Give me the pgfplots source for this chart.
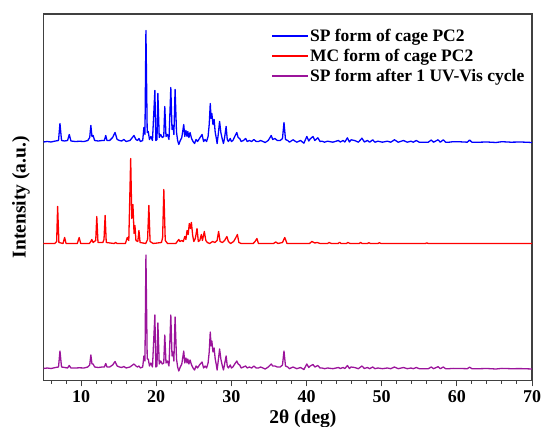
\documentclass[border=0pt]{standalone}
\usepackage{fontspec}
\setmainfont{Liberation Serif}
\usepackage{pgfplots}
\pgfplotsset{compat=1.18}

\definecolor{spblue}{RGB}{0,0,255}
\definecolor{mcred}{RGB}{255,0,0}
\definecolor{cyclepurple}{RGB}{155,20,155}

\newcommand{\legfont}{\fontsize{17.5}{20}\selectfont\bfseries}
\newcommand{\tickfont}{\fontsize{18}{21}\selectfont\bfseries}
\newcommand{\labfont}{\fontsize{19.5}{22}\selectfont\bfseries}

\begin{document}
\begin{tikzpicture}
\useasboundingbox (-43.5pt,-46.5pt) rectangle (501.5pt,380.5pt);
\begin{axis}[
  at={(0,0)}, anchor=south west,
  scale only axis, width=488.5pt, height=366.5pt,
  xmin=5, xmax=70, ymin=0, ymax=366.5,
  xtick={0,10,...,70}, minor x tick num=4, ytick=\empty,
  xtick pos=bottom, tick align=outside,
  major tick length=6pt, minor tick length=3.5pt,
  axis line style={black!75, line width=1.2pt},
  tick style={black!75, line width=1pt},
  /pgf/number format/assume math mode=true,
  tick label style={font=\tickfont},
  label style={font=\labfont},
  xlabel={2θ (deg)}, ylabel={Intensity (a.u.)},
  xlabel style={at={(axis description cs:0.531,-0.105)}, anchor=center},
  ylabel style={at={(axis description cs:-0.046,0.5)}, anchor=center},
  legend cell align=left,
  legend style={draw=none, fill=none, font=\legfont, inner sep=0pt,
    at={(0.466,0.963)}, anchor=north west, row sep=4.5pt,
    nodes={inner sep=1pt}},
  legend image code/.code={\draw[#1,line width=1.7pt] (0pt,0pt) -- (36pt,0pt);},
]
% SP form of cage PC2 (offset 238)
\addplot[spblue, line width=1.3pt, line join=round, y filter/.expression={y+238}] coordinates {
(5.0,0.5)(5.5,1)(6.0,0.5)(6.6,1.5)(7.0,2)(7.19,19)(7.4,2)(7.8,1.5)(8.2,2)(8.43,8)(8.65,1.5)
(9.2,1)(9.8,1.2)(10.4,1)(10.9,2)(11.15,5)(11.3,17)(11.45,6)(11.6,7)(11.8,2)(12.3,1.5)
(12.8,2)(13.1,2)(13.28,7)(13.45,2)(13.8,2)(14.2,5)(14.52,10)(14.8,3)(15.1,2)(15.4,1.5)
(15.7,3)(16.0,1)(16.5,2)(17.04,7)(17.3,3)(17.5,2)(17.7,4)(17.9,1)(18.2,2)(18.36,15)
(18.5,8)(18.63,112)(18.8,10)(18.94,11)(19.1,3)(19.3,6)(19.5,2)(19.82,52)(19.95,2)
(20.1,3)(20.22,49)(20.4,5)(20.6,8)(20.8,5)(21.0,6)(21.14,36)(21.3,6)(21.5,8)(21.7,3)
(21.94,55)(22.1,13)(22.25,17)(22.35,8)(22.51,53)(22.7,10)(22.85,2)(23.0,-2)(23.2,2)
(23.4,5)(23.66,18)(23.8,6)(23.95,12)(24.1,6)(24.2,11)(24.35,5)(24.5,10)(24.7,4)(24.9,1)
(25.1,-1)(25.3,3)(25.5,1)(25.75,4)(26.1,8)(26.3,1)(26.5,3)(26.7,1)(26.9,6)(27.05,18)
(27.19,39)(27.3,24)(27.4,29)(27.55,18)(27.7,23)(27.85,10)(28.0,4)(28.1,-1)(28.25,8)
(28.43,21)(28.6,10)(28.8,3)(28.95,-1)(29.1,5)(29.3,16)(29.45,3)(29.6,1)(29.85,4)(30.0,1)
(30.2,2)(30.45,6)(30.72,10)(30.9,5)(31.1,4)(31.3,1)(31.6,2)(31.9,4)(32.1,1)(32.4,2)
(32.7,1)(33.0,3)(33.3,1)(33.6,1)(33.9,2)(34.2,1)(34.5,0)(34.9,2)(35.3,7)(35.5,3)(35.8,4)
(36.1,2)(36.5,2)(36.8,4)(37.0,20)(37.2,3)(37.5,2)(37.72,0.3)(38.2,2.7)(38.7,0.3)(39.2,2)
(39.65,-0.7)(40.04,6)(40.3,1.5)(40.5,3.7)(40.86,6)(41.1,2)(41.5,4.7)(41.8,1)(42.07,1.3)
(42.4,0.3)(42.8,1.3)(43.5,0.3)(44.24,2)(44.5,0.5)(44.86,2)(45.1,0.5)(45.44,4.7)(45.7,0.5)
(45.93,2.7)(46.4,2)(46.9,0.3)(47.37,4.3)(47.7,0.5)(48.1,2)(48.4,0.3)(48.8,2.7)(49.1,0.3)
(49.5,1.3)(50.1,0.3)(50.75,1.3)(51.2,0.3)(51.7,2.7)(52.2,0.3)(52.9,2)(53.4,0.3)(53.9,1.3)
(54.2,0.3)(54.6,2)(55.0,0.3)(55.6,0.3)(56.2,0.3)(56.6,2.5)(56.9,0.3)(57.5,2.7)(57.8,0.3)
(58.2,2.7)(58.5,0.3)(58.95,0.3)(59.5,0.8)(60.4,0.7)(61.4,0.3)(61.7,2.5)(62.0,0.3)(63.0,0.3)
(64.0,0.5)(65.2,0)(66.0,0.8)(67.2,0.3)(68.5,0.5)(70,0)
};
\addlegendentry{SP form of cage PC2}
% MC form of cage PC2 (offset 137)
\addplot[mcred, line width=1.3pt, line join=round, y filter/.expression={y+137}] coordinates {
(5.0,0)(6.5,0)(6.75,2)(6.88,37)(7.05,1)(7.6,0)(7.81,6)(8.0,0)(9.5,0)(9.75,6)(9.95,0)
(11.1,0)(11.3,2)(11.43,4)(11.6,1)(11.95,3)(12.09,27)(12.25,1)(12.9,1)(13.05,4)(13.2,28)
(13.35,1)(14.4,0)(14.6,1)(14.8,0)(15.9,0)(16.15,6)(16.35,3)(16.6,85)(16.75,25)(16.9,39)
(17.05,10)(17.17,18)(17.3,3)(17.55,2)(17.7,13)(17.85,1)(18.6,0)(18.85,4)(19.02,38)
(19.18,2)(19.6,0)(20.7,1)(20.85,6)(21.01,54)(21.2,3)(21.5,0)(22.6,0)(22.8,2)(23.0,4)
(23.15,2)(23.4,3)(23.6,2)(23.8,7)(23.95,4)(24.1,13)(24.25,9)(24.4,20)(24.55,15)(24.68,21)
(24.85,8)(25.0,2)(25.2,5)(25.43,15)(25.6,2)(25.8,3)(26.0,9)(26.15,3)(26.4,12)(26.6,3)
(26.8,1)(27.1,0)(27.5,2)(27.8,1)(28.1,3)(28.3,12)(28.5,2)(28.8,1)(29.1,3)(29.4,7)(29.6,2)
(29.9,0)(30.3,2)(30.6,6)(30.8,9)(31.0,1)(31.3,0)(32.9,0)(33.15,2)(33.4,5)(33.6,0)(35.6,0)
(35.9,1.5)(36.2,0)(36.8,1)(37.1,6)(37.4,0)(38.5,0)(40.4,0)(40.7,2)(41.1,0.5)(41.4,1)
(41.8,0)(42.8,0)(43.0,1)(43.3,0)(44.2,0)(44.4,1.2)(44.6,0)(45.3,0)(45.5,1)(45.8,0)(47.0,0)
(47.2,1)(47.4,0)(48.1,0)(48.3,0.8)(48.5,0)(49.5,0)(49.7,0.8)(49.9,0)(55.8,0)(56.0,0.6)
(56.2,0)(70,0)
};
\addlegendentry{MC form of cage PC2}
% SP form after 1 UV-Vis cycle (offset 11.5)
\addplot[cyclepurple, line width=1.3pt, line join=round, y filter/.expression={y+11.5}] coordinates {
(5.0,0.5)(5.5,1)(6.0,0.5)(6.6,1.5)(7.0,2)(7.19,18)(7.4,2)(7.8,1.5)(8.2,1)(8.43,3.5)(8.65,1)
(9.2,1)(9.8,1.2)(10.4,1)(10.9,2)(11.15,4)(11.3,14)(11.45,5)(11.6,5)(11.8,2)(12.3,1.5)
(12.8,2)(13.1,2)(13.28,5.5)(13.45,2)(13.8,2)(14.2,4)(14.52,7.5)(14.8,3)(15.1,2)(15.4,1.5)
(15.7,2.5)(16.0,1)(16.5,2)(17.04,5)(17.3,3)(17.5,2)(17.7,3)(17.9,1)(18.2,2)(18.36,13)
(18.5,8)(18.63,114)(18.8,10)(18.94,10)(19.1,3)(19.3,6)(19.5,2)(19.82,54)(19.95,2)
(20.1,3)(20.22,46)(20.4,5)(20.6,8)(20.8,5)(21.0,6)(21.14,34)(21.3,6)(21.5,8)(21.7,3)
(21.94,54)(22.1,13)(22.25,17)(22.35,8)(22.51,52)(22.7,10)(22.85,2)(23.0,-2)(23.2,2)
(23.4,5)(23.66,18)(23.8,6)(23.95,11)(24.1,6)(24.2,10)(24.35,5)(24.5,9)(24.7,4)(24.9,1)
(25.1,-1)(25.3,3)(25.5,1)(25.75,4)(26.1,7)(26.3,1)(26.5,3)(26.7,1)(26.9,6)(27.05,17)
(27.19,37)(27.3,23)(27.4,28)(27.55,17)(27.7,21)(27.85,10)(28.0,4)(28.1,-1)(28.25,8)
(28.43,20)(28.6,10)(28.8,3)(28.95,-1)(29.1,5)(29.3,13)(29.45,3)(29.6,1)(29.85,4)(30.0,1)
(30.2,2)(30.45,5)(30.72,8)(30.9,5)(31.1,4)(31.3,1)(31.6,2)(31.9,3)(32.1,1)(32.4,2)
(32.7,1)(33.0,3)(33.3,1)(33.6,1)(33.9,2)(34.2,1)(34.5,0)(34.9,2)(35.3,5)(35.5,3)(35.8,3)
(36.1,2)(36.5,2)(36.8,4)(37.0,18)(37.2,3)(37.5,2)(37.72,0.3)(38.2,2)(38.7,0.3)(39.2,1.5)
(39.65,-0.5)(40.04,5)(40.3,1.5)(40.5,3)(40.86,4.5)(41.1,2)(41.5,3.5)(41.8,1)(42.07,1)
(42.4,0.3)(42.8,1)(43.5,0.3)(44.24,1.5)(44.5,0.5)(44.86,1.5)(45.1,0.5)(45.44,3.5)(45.7,0.5)
(45.93,2)(46.4,1.5)(46.9,0.3)(47.37,3)(47.7,0.5)(48.1,1.5)(48.4,0.3)(48.8,2)(49.1,0.3)
(49.5,1)(50.1,0.3)(50.75,1)(51.2,0.3)(51.7,2)(52.2,0.3)(52.9,1.5)(53.4,0.3)(53.9,1)
(54.2,0.3)(54.6,1.5)(55.0,0.3)(55.6,0.3)(56.2,0.3)(56.6,2)(56.9,0.3)(57.5,2.3)(57.8,0.3)
(58.2,2)(58.5,0.3)(58.95,0.3)(59.5,0.6)(60.4,0.5)(61.4,0.3)(61.7,1.8)(62.0,0.3)(63.0,0.3)
(64.0,0.5)(65.2,0)(66.0,0.6)(67.2,0.3)(68.5,0.4)(70,0)
};
\addlegendentry{SP form after 1 UV-Vis cycle}
\end{axis}
\end{tikzpicture}
\end{document}
